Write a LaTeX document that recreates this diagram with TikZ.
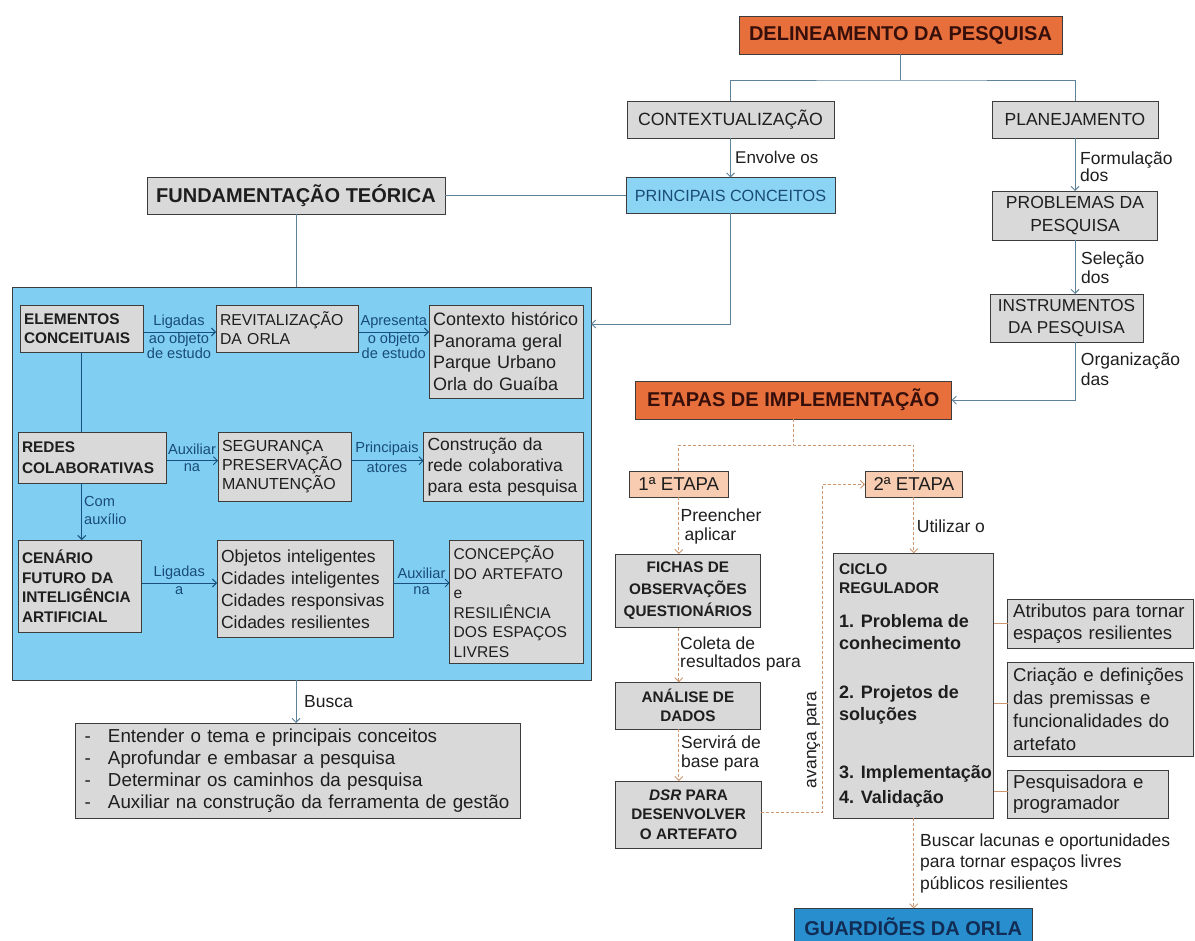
\documentclass[tikz,border=0pt]{standalone}
\usepackage{fontspec}
\setmainfont{Liberation Sans}
\usetikzlibrary{arrows.meta,calc}
\definecolor{cgray}{RGB}{217,217,217}
\definecolor{cbord}{RGB}{60,60,60}
\definecolor{cpanel}{RGB}{128,207,243}
\definecolor{cprinc}{RGB}{140,212,243}
\definecolor{corange}{RGB}{231,111,60}
\definecolor{cpeach}{RGB}{248,204,176}
\definecolor{cguard}{RGB}{40,142,205}
\definecolor{cguardt}{RGB}{18,45,85}
\definecolor{ctitle}{RGB}{55,15,10}
\definecolor{ctline}{RGB}{95,130,155}
\definecolor{cpline}{RGB}{25,80,125}
\definecolor{cdline}{RGB}{205,150,110}
\definecolor{ctxt}{RGB}{30,30,30}
\definecolor{clbl}{RGB}{25,75,120}
\newcommand\fsz[2]{\fontsize{#1pt}{#2pt}\selectfont}
\begin{document}
\begin{tikzpicture}[x=1pt,y=-1pt,
  gbox/.style={draw=cbord, fill=cgray, text=ctxt, inner sep=0pt, outer sep=0pt, line width=0.8pt},
  obox/.style={draw=cbord, fill=corange, text=ctitle, inner sep=0pt, outer sep=0pt, line width=0.8pt, font=\bfseries\fsz{20}{24}},
  pbox/.style={draw=cbord, fill=cpeach, text=ctxt, inner sep=0pt, outer sep=0pt, line width=0.8pt, font=\fsz{18.6}{22}},
  lbox/.style={gbox, align=left, inner xsep=4pt},
  tlink/.style={draw=ctline, line width=0.9pt},
  plink/.style={draw=cpline, line width=0.9pt},
  dlink/.style={draw=cdline, line width=0.9pt, dash pattern=on 3pt off 2pt},
  slink/.style={draw=cdline, line width=0.9pt},
  arr/.style={-{Straight Barb[length=4pt,width=8pt]}},
  blbl/.style={text=clbl, inner sep=0pt, font=\fsz{14.6}{18}, align=center},
  klbl/.style={text=ctxt, inner sep=0pt, font=\fsz{17.5}{20}, align=left, anchor=west},
  ctext/.style={text=ctxt, inner sep=0pt, align=left, anchor=west, font=\bfseries\fsz{18}{22}}
]
\useasboundingbox (0,0) rectangle (1195,941);

% ---------- top right ----------
\node[obox, minimum width=323pt, minimum height=38pt] (del) at (900.5,35) {DELINEAMENTO DA PESQUISA};
\node[gbox, minimum width=207pt, minimum height=37pt, font=\fsz{17.7}{21}] (ctx) at (730.5,119.5) {CONTEXTUALIZAÇÃO};
\node[gbox, minimum width=166pt, minimum height=37pt, font=\fsz{17.5}{21}] (plan) at (1075,119.5) {PLANEJAMENTO};
\node[gbox, fill=cprinc, text=clbl, minimum width=209pt, minimum height=36pt, font=\fsz{16.2}{20}] (princ) at (730.5,195.5) {PRINCIPAIS CONCEITOS};
\node[gbox, align=center, minimum width=165pt, minimum height=49pt, font=\fsz{17.5}{22.5}] (prob) at (1075,215.5) {PROBLEMAS DA\\PESQUISA};
\node[gbox, align=center, minimum width=153pt, minimum height=48pt, font=\fsz{17.2}{21.6}] (instr) at (1066.5,318) {INSTRUMENTOS\\DA PESQUISA};

% ---------- left ----------
\node[gbox, minimum width=298pt, minimum height=37pt, font=\bfseries\fsz{20}{24}] (fund) at (296,195.5) {FUNDAMENTAÇÃO TEÓRICA};
\node[draw=cbord, fill=cpanel, line width=0.9pt, inner sep=0pt, outer sep=0pt, minimum width=579pt, minimum height=393pt] (panel) at (301.5,483.5) {};

\node[lbox, text width=115.5pt, minimum height=47pt, font=\bfseries\fsz{15.4}{19}] (elem) at (81.75,328.5) {ELEMENTOS\\CONCEITUAIS};
\node[lbox, text width=134.6pt, minimum height=47pt, font=\fsz{15.8}{19}] (revit) at (287.3,328.5) {REVITALIZAÇÃO\\DA ORLA};
\node[lbox, text width=146.6pt, minimum height=93pt, font=\fsz{18}{21.7}] (ctxh) at (506.3,351.5) {Contexto histórico\\Panorama geral\\Parque Urbano\\Orla do Guaíba};
\node[lbox, text width=140.5pt, minimum height=51pt, font=\bfseries\fsz{15.4}{20.5}] (redes) at (92.25,457.5) {REDES\\COLABORATIVAS};
\node[lbox, text width=125pt, minimum height=69pt, font=\fsz{16}{19}] (seg) at (284.5,466.5) {SEGURANÇA\\PRESERVAÇÃO\\MANUTENÇÃO};
\node[lbox, text width=152pt, minimum height=69pt, font=\fsz{17.5}{21}] (constr) at (503.6,466.5) {Construção da\\rede colaborativa\\para esta pesquisa};
\node[lbox, text width=115.6pt, minimum height=92.7pt, font=\bfseries\fsz{15.4}{19.4}] (cen) at (79.8,586.35) {CENÁRIO\\FUTURO DA\\INTELIGÊNCIA\\ARTIFICIAL};
\node[lbox, text width=168.4pt, minimum height=96.3pt, font=\fsz{17.5}{22}] (obj) at (305.2,588.85) {Objetos inteligentes\\Cidades inteligentes\\Cidades responsivas\\Cidades resilientes};
\node[lbox, text width=125.9pt, minimum height=123.3pt, font=\fsz{15.6}{19.6}] (conc) at (516.65,601.65) {CONCEPÇÃO\\DO ARTEFATO\\e\\RESILIÊNCIA\\DOS ESPAÇOS\\LIVRES};

\node[gbox, align=left, inner xsep=9.5pt, text width=426pt, minimum height=95pt, font=\fsz{18.8}{22}] (list) at (297.5,770.5)
 {\makebox[23.5pt][l]{-}Entender o tema e principais conceitos\\
  \makebox[23.5pt][l]{-}Aprofundar e embasar a pesquisa\\
  \makebox[23.5pt][l]{-}Determinar os caminhos da pesquisa\\
  \makebox[23.5pt][l]{-}Auxiliar na construção da ferramenta de gestão};

% ---------- right bottom ----------
\node[obox, minimum width=316.7pt, minimum height=38.3pt] (etapas) at (793.35,400.15) {ETAPAS DE IMPLEMENTAÇÃO};
\node[pbox, minimum width=99pt, minimum height=26.3pt] (e1) at (678.8,484.15) {1ª ETAPA};
\node[pbox, minimum width=97.7pt, minimum height=25.3pt] (e2) at (913.85,484.35) {2ª ETAPA};
\node[gbox, align=center, minimum width=144.2pt, minimum height=73.7pt, font=\bfseries\fsz{15.3}{22}] (fichas) at (687.9,590.85) {FICHAS DE\\OBSERVAÇÕES\\QUESTIONÁRIOS};
\node[gbox, align=center, minimum width=144.2pt, minimum height=46.7pt, font=\bfseries\fsz{15.3}{19}] (anal) at (687.9,705.65) {ANÁLISE DE\\DADOS};
\node[gbox, align=center, minimum width=145.5pt, minimum height=67.3pt, font=\bfseries\fsz{15.3}{19.2}] (dsr) at (688.55,814.65) {\textit{DSR} PARA\\DESENVOLVER\\O ARTEFATO};
\node[gbox, minimum width=159.9pt, minimum height=265pt] (ciclo) at (913.75,685.8) {};
\node[ctext, font=\bfseries\fsz{15.5}{19}] (ct1) at (839,578.5) {CICLO\\REGULADOR};
\node[ctext, font=\bfseries\fsz{18}{22.3}] (ct2) at (839,631.85) {1. Problema de\\conhecimento};
\node[ctext, font=\bfseries\fsz{18}{21.7}] (ct3) at (839,704.85) {2. Projetos de\\soluções};
\node[ctext, font=\bfseries\fsz{18}{25.3}] (ct4) at (839,786.65) {3. Implementação\\4. Validação};
\node[gbox, align=left, inner xsep=5.5pt, text width=175.1pt, minimum height=49.3pt, font=\fsz{18.6}{22.3}] (atr) at (1100.65,623.65) {Atributos para tornar\\espaços resilientes};
\node[gbox, align=left, inner xsep=5.5pt, text width=175.1pt, minimum height=94pt, font=\fsz{18.6}{23}] (cria) at (1100.65,709.7) {Criação e definições\\das premissas e\\funcionalidades do\\artefato};
\node[gbox, align=left, inner xsep=5.5pt, text width=150pt, minimum height=47.6pt, font=\fsz{18.6}{21.3}] (pesq) at (1088.1,794.5) {Pesquisadora e\\programador};
\node[draw=cbord, fill=cguard, text=cguardt, line width=0.8pt, inner sep=0pt, outer sep=0pt, minimum width=238.3pt, minimum height=36pt, font=\bfseries\fsz{20}{24}] (guard) at (913.15,926.3) {GUARDIÕES DA ORLA};

% ---------- top connectors ----------
\draw[tlink] (del.south) -- ++(0,26) coordinate (j);
\draw[tlink] (ctx.north) |- (j) -| (plan.north);
\draw[tlink,arr] (ctx.south) -- (princ.north);
\node[klbl, font=\fsz{17}{20}] (lenv) at (735,157) {Envolve os};
\draw[tlink] (fund.east) -- (princ.west);
\draw[tlink] (fund.south) -- (fund.south |- panel.north);
\coordinate (pin) at ($(panel.north east)+(0,37)$);
\draw[tlink,arr] (princ.south) |- (pin);
\draw[tlink,arr] (plan.south) -- (prob.north);
\node[klbl, font=\fsz{17.5}{15}] (lform) at (1080,166.5) {Formulação\\dos};
\draw[tlink,arr] (prob.south) -- (prob.south |- instr.north);
\node[klbl, font=\fsz{17.5}{19}] (lsel) at (1081,267.5) {Seleção\\dos};
\draw[tlink,arr] (prob.south |- instr.south) |- (etapas.east);
\node[klbl, font=\fsz{17.5}{20}] (lorg) at (1080.7,369.3) {Organização\\das};

% ---------- panel connectors ----------
\coordinate (a1) at ($(elem.east)+(0,3.5)$);
\draw[plink,arr] (a1) -- (a1 -| revit.west);
\node[blbl] (l1) at (179,321.7) {Ligadas};
\node[blbl, font=\fsz{14.6}{11.7}] (l2) at (179,346) {ao objeto\\de estudo};
\coordinate (a2) at ($(revit.east)+(0,3.5)$);
\draw[plink,arr] (a2) -- (a2 -| ctxh.west);
\node[blbl] (l3) at (393.8,321.7) {Apresenta};
\node[blbl, font=\fsz{14.6}{11.7}] (l4) at (393.8,346) {o objeto\\de estudo};
\draw[plink] (elem.south) -- (elem.south |- redes.north);
\coordinate (a3) at ($(redes.east)+(0,3.2)$);
\draw[plink,arr] (a3) -- (a3 -| seg.west);
\node[blbl] (l5) at (192,449) {Auxiliar};
\node[blbl] (l6) at (192,467.5) {na};
\draw[plink,arr] (a3 -| seg.east) -- (a3 -| constr.west);
\node[blbl] (l7) at (387,449) {Principais};
\node[blbl] (l8) at (387,468) {atores};
\draw[plink,arr] (elem.south |- redes.south) -- (elem.south |- cen.north);
\node[blbl, align=left, anchor=west, font=\fsz{14.6}{18}] (l9) at (84,510) {Com\\auxílio};
\coordinate (a4) at ($(cen.east)+(0,-3.35)$);
\draw[plink,arr] (a4) -- (a4 -| obj.west);
\node[blbl] (l10) at (179.3,572.7) {Ligadas};
\node[blbl] (l11) at (179.3,590.5) {a};
\draw[plink,arr] (a4 -| obj.east) -- (a4 -| conc.west);
\node[blbl] (l12) at (421.5,573) {Auxiliar};
\node[blbl] (l13) at (421.5,590.5) {na};
\draw[tlink,arr] (fund.south |- panel.south) -- (fund.south |- list.north);
\node[klbl] (lbus) at (304,701.7) {Busca};

% ---------- dashed connectors ----------
\draw[dlink] (etapas.south) -- ++(0,25.7) coordinate (k);
\draw[dlink] (e1.north) |- (k) -| (e2.north);
\draw[dlink,arr] (e1.south) -- (e1.south |- fichas.north);
\node[klbl, font=\fsz{17.5}{19.3}] (lpre) at (680.5,526.3) {Preencher\\\hspace*{4pt}aplicar};
\draw[dlink,arr] (e1.south |- fichas.south) -- (e1.south |- anal.north);
\node[klbl, font=\fsz{17.5}{18.3}] (lcol) at (680,654.2) {Coleta de\\resultados para};
\draw[dlink,arr] (e1.south |- anal.south) -- (e1.south |- dsr.north);
\node[klbl, font=\fsz{17.5}{19}] (lser) at (681,753.8) {Servirá de\\base para};
\coordinate (d1) at ($(dsr.east)+(0,-2)$);
\coordinate (av) at ($(e2.west)+(-42.5,0)$);
\draw[dlink,arr] (d1) -| (av) -- (e2.west);
\node[text=ctxt, inner sep=0pt, font=\fsz{17.5}{20}, rotate=90] (lava) at (813.5,740) {avança para};
\draw[dlink,arr] (e2.south) -- (e2.south |- ciclo.north);
\node[klbl] (luti) at (916.7,526.7) {Utilizar o};
\coordinate (c1) at (atr.west);
\draw[slink] (ciclo.east |- c1) -- (c1);
\coordinate (c2) at ($(cria.west)+(0,-6.4)$);
\draw[slink] (ciclo.east |- c2) -- (c2);
\coordinate (c3) at ($(pesq.west)+(0,-2.8)$);
\draw[slink] (ciclo.east |- c3) -- (c3);
\draw[dlink,arr] (ciclo.south) -- (ciclo.south |- guard.north);
\node[klbl, font=\fsz{17.5}{21.7}] (lbusc) at (920,863.3) {Buscar lacunas e oportunidades\\para tornar espaços livres\\públicos resilientes};
\end{tikzpicture}
\end{document}
